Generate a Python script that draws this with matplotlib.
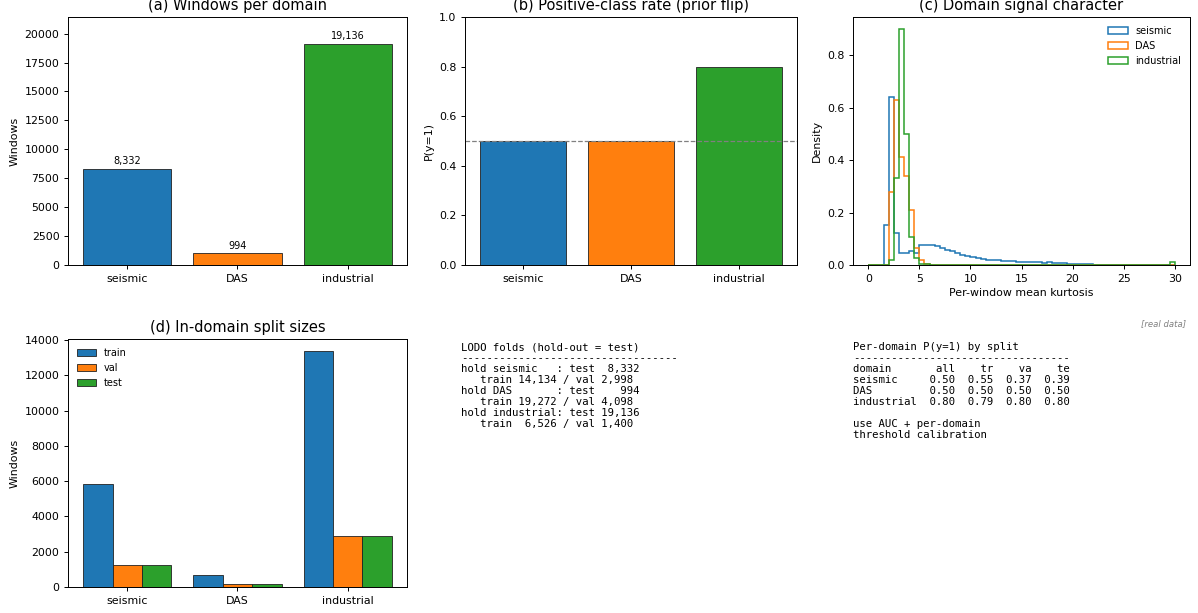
import numpy as np
import matplotlib
matplotlib.use("Agg")
import matplotlib.pyplot as plt

domains = ["seismic", "DAS", "industrial"]
windows = [8332, 994, 19136]
pos_rate = [0.50, 0.50, 0.80]

split_names = ["train", "val", "test"]
split_train = [5832, 696, 13395]
split_val = [1250, 149, 2870]
split_test = [1250, 149, 2871]

# per-window mean kurtosis histograms (density, bin width 0.5 from 0 to 30)
kurt_edges = np.arange(0, 30.5, 0.5)
dens_seismic = [0, 0, 0, 0.152, 0.64, 0.122, 0.044, 0.045, 0.055, 0.045,
                0.075, 0.078, 0.077, 0.073, 0.066, 0.059, 0.052, 0.046, 0.039, 0.034,
                0.029, 0.025, 0.022, 0.020, 0.019, 0.018, 0.017, 0.016, 0.014, 0.012,
                0.010, 0.011, 0.012, 0.010, 0.008, 0.010, 0.007, 0.006, 0.006, 0.005,
                0.005, 0.005, 0.004, 0.002, 0, 0, 0, 0, 0, 0,
                0, 0, 0, 0, 0, 0, 0, 0, 0, 0]
dens_das = [0, 0, 0, 0, 0.28, 0.63, 0.41, 0.34, 0.21, 0.066,
            0.02, 0.003, 0, 0, 0, 0, 0, 0, 0, 0,
            0, 0, 0, 0, 0, 0, 0, 0, 0, 0,
            0, 0, 0, 0, 0, 0, 0, 0, 0, 0,
            0, 0, 0, 0, 0, 0, 0, 0, 0, 0,
            0, 0, 0, 0, 0, 0, 0, 0, 0, 0]
dens_industrial = [0, 0, 0, 0, 0.02, 0.33, 0.90, 0.50, 0.105, 0.025,
                   0.005, 0.002, 0.001, 0.001, 0.001, 0, 0.001, 0.001, 0, 0,
                   0, 0, 0, 0, 0, 0, 0, 0, 0, 0,
                   0, 0, 0.001, 0.001, 0, 0, 0, 0, 0, 0,
                   0.001, 0.001, 0.001, 0.001, 0, 0, 0, 0, 0, 0,
                   0, 0, 0, 0, 0, 0.001, 0.001, 0.001, 0, 0.012]

lodo_rows = [("seismic", 8332, 14134, 2998),
             ("DAS", 994, 19272, 4098),
             ("industrial", 19136, 6526, 1400)]
prate_rows = [("seismic", 0.50, 0.55, 0.37, 0.39),
              ("DAS", 0.50, 0.50, 0.50, 0.50),
              ("industrial", 0.80, 0.79, 0.80, 0.80)]

colors = ["#1f77b4", "#ff7f0e", "#2ca02c"]
s = 0.88  # the reference looks like a downscaled render
plt.rcParams.update({
    "font.size": 9 * s,
    "axes.titlesize": 12 * s,
    "axes.titlepad": 6 * s,
    "axes.labelpad": 4 * s,
    "axes.linewidth": 0.8 * s,
    "xtick.major.size": 3.5 * s,
    "ytick.major.size": 3.5 * s,
    "xtick.major.width": 0.8 * s,
    "ytick.major.width": 0.8 * s,
    "xtick.major.pad": 3.5 * s,
    "ytick.major.pad": 3.5 * s,
})
W, H = 1198, 613
fig = plt.figure(figsize=(W / 100, H / 100), dpi=100)

def rect(l, r, t, b):
    return [l / W, 1 - b / H, (r - l) / W, (b - t) / H]

# (a)
ax_a = fig.add_axes(rect(68, 407, 17, 265))
x = np.arange(len(domains))
bars = ax_a.bar(x, windows, color=colors, edgecolor="#222222", linewidth=0.6)
for b, v in zip(bars, windows):
    ax_a.text(b.get_x() + b.get_width() / 2, v + 250, f"{v:,}",
              ha="center", va="bottom", fontsize=8 * s)
ax_a.set_xticks(x)
ax_a.set_xticklabels(domains)
ax_a.set_ylim(0, max(windows) * 1.12)
ax_a.set_ylabel("Windows")
ax_a.set_title("(a) Windows per domain")

# (b)
ax_b = fig.add_axes(rect(465, 797, 17, 265))
ax_b.bar(x, pos_rate, color=colors, edgecolor="#222222", linewidth=0.6)
ax_b.axhline(0.5, color="gray", linestyle="--", linewidth=0.9)
ax_b.set_xticks(x)
ax_b.set_xticklabels(domains)
ax_b.set_ylim(0, 1)
ax_b.set_ylabel("P(y=1)")
ax_b.set_title("(b) Positive-class rate (prior flip)")

# (c)
ax_c = fig.add_axes(rect(853, 1190, 17, 265))
for dens, name, c in zip([dens_seismic, dens_das, dens_industrial], domains, colors):
    ax_c.hist(kurt_edges[:-1], bins=kurt_edges, weights=dens, histtype="step",
              color=c, linewidth=1.1, label=name)
ax_c.set_xlabel("Per-window mean kurtosis")
ax_c.set_ylabel("Density")
ax_c.set_title("(c) Domain signal character")
ax_c.legend(frameon=False, fontsize=8 * s, loc="upper right")
fig.text(1186 / W, 1 - 324 / H, "[real data]", ha="right", va="center",
         fontsize=7 * s, color="gray", style="italic")

# (d)
ax_d = fig.add_axes(rect(68, 407, 339, 587))
w = 0.8 / 3
for k, (vals, name) in enumerate(zip([split_train, split_val, split_test], split_names)):
    ax_d.bar(x + (k - 1) * w, vals, width=w, color=colors[k],
             edgecolor="#222222", linewidth=0.6, label=name)
ax_d.set_xticks(x)
ax_d.set_xticklabels(domains)
ax_d.set_ylabel("Windows")
ax_d.set_title("(d) In-domain split sizes")
ax_d.legend(frameon=False, fontsize=8 * s, loc="upper left")

# text panels
lines = ["LODO folds (hold-out = test)", "-" * 34]
for name, te, tr, va in lodo_rows:
    lines.append(f"hold {name:<10s}: test {te:>6,}")
    lines.append(f"   train {tr:>6,} / val {va:,}")
fig.text(461 / W, 1 - 342 / H, "\n".join(lines), family="DejaVu Sans Mono",
         fontsize=7.7, va="top", ha="left", linespacing=1.12)

lines = ["Per-domain P(y=1) by split", "-" * 34,
         f"{'domain':<12s}{'all':>4s}{'tr':>6s}{'va':>6s}{'te':>6s}"]
for name, a, tr, va, te in prate_rows:
    lines.append(f"{name:<12s}{a:4.2f}{tr:6.2f}{va:6.2f}{te:6.2f}")
lines += ["", "use AUC + per-domain", "threshold calibration"]
fig.text(853 / W, 1 - 342 / H, "\n".join(lines), family="DejaVu Sans Mono",
         fontsize=7.7, va="top", ha="left", linespacing=1.12)

fig.savefig("out.png", dpi=100)
